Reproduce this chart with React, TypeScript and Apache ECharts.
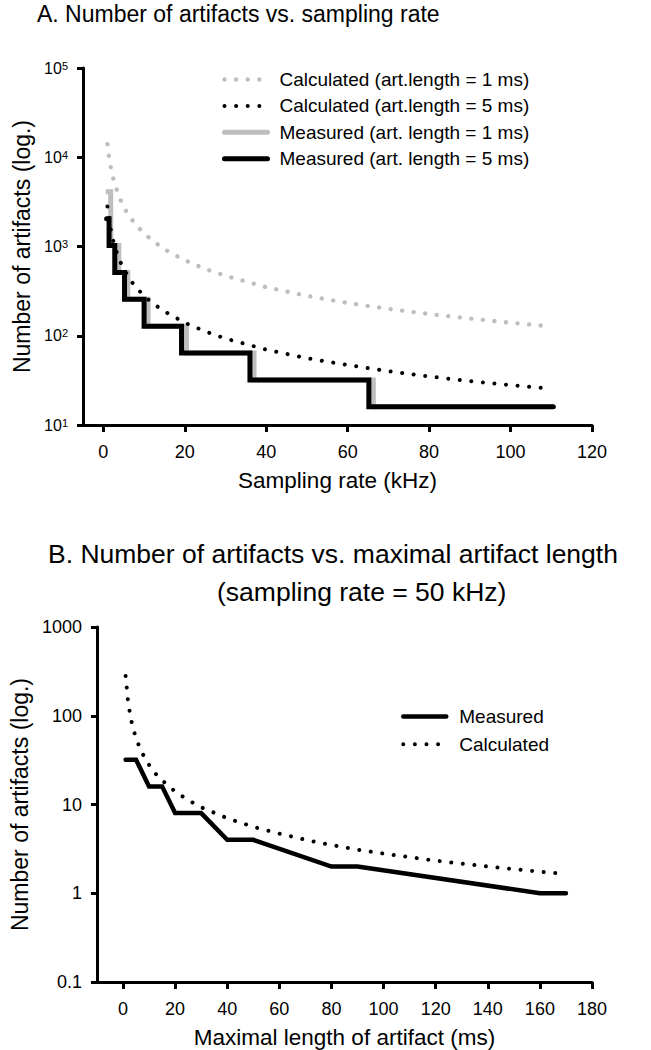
import React, { useEffect, useRef } from 'react';
import * as echarts from 'echarts';

const FONT = '"Liberation Sans", Arial, Helvetica, sans-serif';
const GRAY = '#BEBEBE';
const BLACK = '#000000';

// ---------- Panel A: number of artifacts vs. sampling rate ----------
const rateTicks = [0, 20, 40, 60, 80, 100, 120];
const rateYTicks = [10, 100, 1000, 10000, 100000];
const rateYExponents = ['1', '2', '3', '4', '5'];

const calcRate = [1, 1.5, 2, 2.5, 3, 4, 5, 6, 7, 8, 10, 12, 15, 20, 25, 30, 40, 50, 60, 70, 80, 90, 100, 110];
const calc1ms = [14000, 9300, 7000, 5600, 4700, 3500, 2800, 2300, 2000, 1750, 1400, 1170, 930, 700, 560, 470, 350, 280, 233, 200, 175, 156, 140, 127];
const calc5ms = [2800, 1870, 1400, 1120, 930, 700, 560, 470, 400, 350, 280, 233, 187, 140, 112, 93, 70, 56, 47, 40, 35, 31, 28, 25.5];

const meas1Rate = [0.6, 1.8, 1.9, 3.8, 6.0, 11, 20.4, 37, 66.3, 110.5];
const meas1Count = [4096, 2048, 1024, 512, 256, 128, 64, 32, 16, 16];
const meas5Rate = [0.8, 1.4, 2.8, 5.2, 10, 19.2, 36, 65.2, 110.5];
const meas5Count = [2048, 1024, 512, 256, 128, 64, 32, 16, 16];

const legendA = [
  'Calculated (art.length = 1 ms)',
  'Calculated (art.length = 5 ms)',
  'Measured (art. length = 1 ms)',
  'Measured (art. length = 5 ms)',
];

// ---------- Panel B: number of artifacts vs. maximal artifact length ----------
const lengthTicks = [0, 20, 40, 60, 80, 100, 120, 140, 160, 180];
const countYTicks = [0.1, 1, 10, 100, 1000];
const countYLabels = ['0.1', '1', '10', '100', '1000'];

const measLength = [1, 5, 10, 15, 20, 30, 40, 50, 80, 90, 160, 170];
const measCount = [32, 32, 16, 16, 8, 8, 4, 4, 2, 2, 1, 1];
const calcLength = [1, 2, 3, 4, 5, 6, 8, 10, 12, 15, 20, 25, 30, 40, 50, 60, 70, 80, 90, 100, 110, 120, 130, 140, 150, 160, 170];
const calcCount = [280, 140, 93, 70, 56, 47, 35, 28, 23, 18.7, 14, 11.2, 9.3, 7, 5.6, 4.7, 4, 3.5, 3.1, 2.8, 2.55, 2.33, 2.15, 2, 1.87, 1.75, 1.65];

const legendB = ['Measured', 'Calculated'];

const zip = (xs: number[], ys: number[]) => xs.map((x, i) => [x, ys[i]]);
const nearestIndex = (ticks: number[], v: number) => {
  let best = 0;
  let bd = Infinity;
  ticks.forEach((t, i) => {
    const d = Math.abs(Math.log10(t) - Math.log10(v));
    if (d < bd) { bd = d; best = i; }
  });
  return best;
};

const DOT = [0.01, 11.6];

const axisLineStyle = { onZero: false, lineStyle: { color: BLACK, width: 3 } };
const tickStyle = { color: BLACK, width: 3 };

function buildOption() {
  return {
    animation: false,
    backgroundColor: '#ffffff',
    textStyle: { fontFamily: FONT, color: BLACK },
    title: [
      {
        text: 'A. Number of artifacts vs. sampling rate',
        left: 37, top: 2, padding: 0,
        textStyle: { fontSize: 23, lineHeight: 23, fontWeight: 'normal', color: BLACK, fontFamily: FONT },
      },
      {
        text: 'B. Number of artifacts vs. maximal artifact length',
        left: 48, top: 540, padding: 0,
        textStyle: { fontSize: 26.5, lineHeight: 27, fontWeight: 'normal', color: BLACK, fontFamily: FONT },
      },
      {
        text: '(sampling rate = 50 kHz)',
        left: 217, top: 578, padding: 0,
        textStyle: { fontSize: 26.5, lineHeight: 27, fontWeight: 'normal', color: BLACK, fontFamily: FONT },
      },
    ],
    legend: [
      {
        orient: 'vertical', left: 222, top: 70, padding: 0,
        itemWidth: 43, itemHeight: 14, itemGap: 7.4, selectedMode: false,
        itemStyle: { opacity: 0 },
        textStyle: { fontSize: 19, color: BLACK, fontFamily: FONT, padding: [0, 0, 0, 7] },
        data: [
          { name: legendA[0], lineStyle: { color: GRAY, width: 4.4, type: DOT, cap: 'round' }, itemStyle: { opacity: 0 } },
          { name: legendA[1], lineStyle: { color: BLACK, width: 4, type: DOT, cap: 'round' }, itemStyle: { opacity: 0 } },
          { name: legendA[2], lineStyle: { color: GRAY, width: 5, type: 'solid', cap: 'round' }, itemStyle: { opacity: 0 } },
          { name: legendA[3], lineStyle: { color: BLACK, width: 5, type: 'solid', cap: 'round' }, itemStyle: { opacity: 0 } },
        ],
      },
      {
        orient: 'vertical', left: 401, top: 707, padding: 0,
        itemWidth: 43, itemHeight: 14, itemGap: 8.7, selectedMode: false,
        itemStyle: { opacity: 0 },
        textStyle: { fontSize: 19, color: BLACK, fontFamily: FONT, padding: [0, 0, 0, 8] },
        data: [
          { name: legendB[0], lineStyle: { color: BLACK, width: 4.5, type: 'solid', cap: 'round' }, itemStyle: { opacity: 0 } },
          { name: legendB[1], lineStyle: { color: BLACK, width: 4, type: DOT, cap: 'round' }, itemStyle: { opacity: 0 } },
        ],
      },
    ],
    grid: [
      { left: 83, top: 68, width: 509, height: 357 },
      { left: 83, top: 627, width: 509, height: 356 },
    ],
    xAxis: [
      {
        type: 'value', gridIndex: 0, min: -5, max: 120,
        name: 'Sampling rate (kHz)', nameLocation: 'middle', nameGap: 44,
        nameTextStyle: { fontSize: 22.5, color: BLACK, fontFamily: FONT },
        axisLine: axisLineStyle,
        axisTick: { show: true, customValues: rateTicks, length: 7, lineStyle: tickStyle },
        axisLabel: { customValues: rateTicks, margin: 18, fontSize: 18, color: BLACK, fontFamily: FONT },
        splitLine: { show: false },
      },
      {
        type: 'value', gridIndex: 1, min: -10, max: 180,
        name: 'Maximal length of artifact (ms)', nameLocation: 'middle', nameGap: 44,
        nameTextStyle: { fontSize: 22.5, color: BLACK, fontFamily: FONT },
        axisLine: axisLineStyle,
        axisTick: { show: true, customValues: lengthTicks, length: 7, lineStyle: tickStyle },
        axisLabel: { customValues: lengthTicks, margin: 18, fontSize: 18, color: BLACK, fontFamily: FONT },
        splitLine: { show: false },
      },
    ],
    yAxis: [
      {
        type: 'log', logBase: 10, gridIndex: 0, min: 10, max: 100000,
        name: 'Number of artifacts (log.)', nameLocation: 'middle', nameGap: 46,
        nameTextStyle: { fontSize: 23, color: BLACK, fontFamily: FONT },
        axisLine: axisLineStyle,
        axisTick: { show: true, length: 6, lineStyle: tickStyle },
        axisLabel: {
          margin: 15, color: BLACK, fontFamily: FONT,
          formatter: (v: number) => '{b|10}{sup|' + rateYExponents[nearestIndex(rateYTicks, v)] + '}',
          rich: {
            b: { fontSize: 16, lineHeight: 16, color: BLACK, fontFamily: FONT },
            sup: { fontSize: 11, lineHeight: 11, verticalAlign: 'top', color: BLACK, fontFamily: FONT },
          },
        },
        splitLine: { show: false },
        minorTick: { show: false },
      },
      {
        type: 'log', logBase: 10, gridIndex: 1, min: 0.1, max: 1000,
        name: 'Number of artifacts (log.)', nameLocation: 'middle', nameGap: 61,
        nameTextStyle: { fontSize: 23, color: BLACK, fontFamily: FONT },
        axisLine: axisLineStyle,
        axisTick: { show: true, length: 6, lineStyle: tickStyle },
        axisLabel: {
          margin: 15, fontSize: 18, color: BLACK, fontFamily: FONT,
          formatter: (v: number) => countYLabels[nearestIndex(countYTicks, v)],
        },
        splitLine: { show: false },
        minorTick: { show: false },
      },
    ],
    series: [
      {
        name: legendA[2], type: 'line', xAxisIndex: 0, yAxisIndex: 0, step: 'end',
        data: zip(meas1Rate, meas1Count), symbol: 'none', silent: true,
        lineStyle: { color: GRAY, width: 5, join: 'miter', cap: 'butt' },
        itemStyle: { color: GRAY },
      },
      {
        name: legendA[0], type: 'line', xAxisIndex: 0, yAxisIndex: 0,
        data: zip(calcRate, calc1ms), symbol: 'none', silent: true,
        lineStyle: { color: GRAY, width: 4.4, type: DOT, cap: 'round' },
        itemStyle: { color: GRAY },
      },
      {
        name: legendA[3], type: 'line', xAxisIndex: 0, yAxisIndex: 0, step: 'end',
        data: zip(meas5Rate, meas5Count), symbol: 'none', silent: true,
        lineStyle: { color: BLACK, width: 5, join: 'miter', cap: 'round' },
        itemStyle: { color: BLACK },
      },
      {
        name: legendA[1], type: 'line', xAxisIndex: 0, yAxisIndex: 0,
        data: zip(calcRate, calc5ms), symbol: 'none', silent: true,
        lineStyle: { color: BLACK, width: 4, type: DOT, cap: 'round' },
        itemStyle: { color: BLACK },
      },
      {
        name: legendB[0], type: 'line', xAxisIndex: 1, yAxisIndex: 1,
        data: zip(measLength, measCount), symbol: 'none', silent: true,
        lineStyle: { color: BLACK, width: 4.5, join: 'miter', cap: 'round' },
        itemStyle: { color: BLACK },
      },
      {
        name: legendB[1], type: 'line', xAxisIndex: 1, yAxisIndex: 1,
        data: zip(calcLength, calcCount), symbol: 'none', silent: true,
        lineStyle: { color: BLACK, width: 4, type: DOT, cap: 'round' },
        itemStyle: { color: BLACK },
      },
    ],
  };
}

export default function App() {
  const ref = useRef<HTMLDivElement>(null);
  useEffect(() => {
    if (!ref.current) return;
    const chart = echarts.init(ref.current, undefined, { renderer: 'svg' });
    chart.setOption(buildOption() as any);
    return () => chart.dispose();
  }, []);
  return (
    <div
      ref={ref}
      style={{ position: 'absolute', left: 0, top: 0, width: 651, height: 1050, background: '#ffffff' }}
    />
  );
}
